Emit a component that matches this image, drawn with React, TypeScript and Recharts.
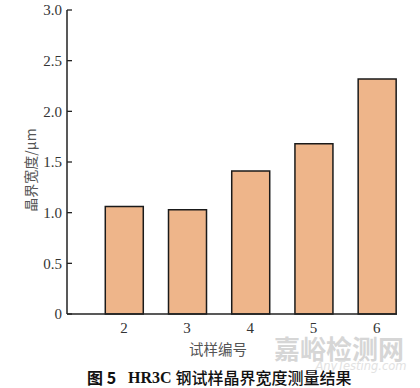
import { BarChart, Bar, XAxis, YAxis } from 'recharts'

const samples = [2, 3, 4, 5, 6]
const widths = [1.06, 1.03, 1.41, 1.68, 2.32]
const yTicks = [0, 0.5, 1.0, 1.5, 2.0, 2.5, 3.0]

const data = samples.map((s, i) => ({ sample: s, width: widths[i] }))

const SERIF = '"Liberation Serif", "DejaVu Serif", serif'
const CJK = '"Noto Sans CJK SC", sans-serif'

// y ticks point into the plot, labels sit left of the axis
function YTick(props: any) {
  const { x, y, payload } = props
  const v = payload.value
  return (
    <g>
      <line x1={x} y1={y} x2={x + 5} y2={y} stroke="#222" strokeWidth={1.3} />
      <text x={x - 5} y={y} dy="0.35em" textAnchor="end" fontFamily={SERIF} fontSize={15} fill="#333">
        {v === 0 ? '0' : v.toFixed(1)}
      </text>
    </g>
  )
}

export default function App() {
  return (
    <div style={{ position: 'absolute', left: 0, top: 0, width: 420, height: 388, background: '#fff' }}>
      <BarChart
        width={420}
        height={388}
        data={data}
        margin={{ top: 10, right: 23, bottom: 44, left: 27 }}
      >
        {/* watermark sits behind the axis texts */}
        <text x={339} y={347} textAnchor="middle" dominantBaseline="central" fontFamily={CJK} fontSize={26} fill="#d6d6d6" fontWeight={700}>
          嘉峪检测网
        </text>
        <text x={361} y={366} textAnchor="middle" dominantBaseline="central" fontFamily='"DejaVu Sans", sans-serif' fontSize={11.5} fontStyle="italic" fill="#e2e2e2">
          AnyTesting.com
        </text>
        <XAxis
          dataKey="sample"
          type="number"
          domain={[1.1, 6.32]}
          ticks={samples}
          allowDataOverflow
          height={30}
          tickLine={false}
          tickSize={0}
          tickMargin={8}
          axisLine={{ stroke: '#222', strokeWidth: 1.5 }}
          tick={{ fill: '#333', fontSize: 15, fontFamily: SERIF }}
        />
        <YAxis
          width={40}
          domain={[0, 3]}
          ticks={yTicks}
          tickLine={false}
          tickSize={0}
          tickMargin={0}
          axisLine={{ stroke: '#222', strokeWidth: 1.5 }}
          tick={<YTick />}
        />
        <Bar
          dataKey="width"
          fill="#EEB58A"
          stroke="#1a1a1a"
          strokeWidth={1.5}
          barSize={38}
          isAnimationActive={false}
        />
        <text x={30} y={170} transform="rotate(-90 30 170)" textAnchor="middle" dominantBaseline="central" fontFamily={CJK} fontSize={14} fill="#555">
          晶界宽度/μm
        </text>
        <text x={218} y={348} textAnchor="middle" dominantBaseline="central" fontFamily={CJK} fontSize={14.5} fill="#555">
          试样编号
        </text>
        <text x={87} y={377} dominantBaseline="central" fontSize={16} fill="#111">
          <tspan fontFamily={CJK} fontWeight={700}>图 5</tspan>
          <tspan x={128} fontFamily={SERIF} fontWeight={700}>HR3C</tspan>
          <tspan dx={4} fontFamily={CJK} fontWeight={500}>钢试样晶界宽度测量结果</tspan>
        </text>
      </BarChart>
    </div>
  )
}
